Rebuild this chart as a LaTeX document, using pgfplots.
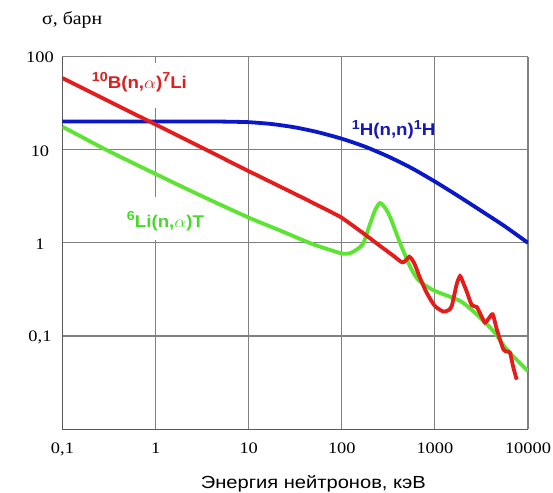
\documentclass[border=0pt]{standalone}
\usepackage{graphicx}
\usepackage{fontspec}
\usepackage{pgfplots}
\pgfplotsset{compat=1.18}
\setmainfont{Liberation Serif}
\newfontfamily\sansf{Liberation Sans}

% slightly widened lettering
\newcommand\hs[1]{\scalebox{1.15}[1]{#1}}
\newcommand\lbl[1]{\scalebox{1.1}[1]{#1}}
\newcommand\sups[1]{\raisebox{6.3pt}{\fontsize{13}{13}\selectfont #1}}

\definecolor{cB}{RGB}{228,28,28}
\definecolor{cH}{RGB}{10,24,200}
\definecolor{cLi}{RGB}{92,228,50}
\definecolor{tB}{RGB}{222,30,30}
\definecolor{tH}{RGB}{22,22,185}
\definecolor{tLi}{RGB}{72,218,42}

\begin{document}
\begin{tikzpicture}
\begin{axis}[
  name=ax,
  set layers,
  scale only axis,
  width=465.5pt, height=372.4pt,
  xmode=log, ymode=log,
  xmin=0.1, xmax=10000, ymin=0.01, ymax=100,
  xtick={0.1,1,10,100,1000,10000},
  xticklabels={\hs{0,1},\hs{1},\hs{10},\hs{100},\hs{1000},\hs{10000}},
  ytick={0.1,1,10,100},
  yticklabels={\hs{0,1},\hs{1},\hs{10},\hs{100}},
  major tick length=0pt, minor tick length=0pt,
  grid=major,
  major grid style={draw=gray, line width=1.1pt},
  axis x line*=bottom, axis y line*=left,
  axis line style={-, draw=black!65, line width=1.2pt},
  tick label style={font=\fontsize{16}{16}\selectfont, inner sep=0pt},
  xticklabel style={anchor=base, yshift=-24pt},
  yticklabel style={anchor=center, xshift=-22.5pt, yshift=-1pt},
  every axis plot/.append style={line width=3.8pt, smooth, tension=0.4},
]

% curve names on white patches above the grid, below the curves
\pgfplotsextra{%
\begin{pgfonlayer}{pre main}
\node[anchor=base west, inner xsep=2pt, inner ysep=0pt, fill=white,
      text height=25pt, text depth=20pt, xshift=-2pt, text=tB,
      font=\sansf\bfseries\fontsize{17}{17}\selectfont]
  at (axis cs:0.206,46) {\lbl{\sups{10}B(n,$\alpha$)\sups{7}Li}};
\node[anchor=base west, inner xsep=2pt, inner ysep=0pt, fill=white,
      text height=30pt, text depth=13pt, xshift=-2pt, text=tLi,
      font=\sansf\bfseries\fontsize{17}{17}\selectfont]
  at (axis cs:0.49,1.48) {\lbl{\sups{6}Li(n,$\alpha$)T}};
\node[anchor=base west, inner sep=0pt, text=tH,
      font=\sansf\bfseries\fontsize{17}{17}\selectfont]
  at (axis cs:127.8,14.1) {\lbl{\sups{1}H(n,n)\sups{1}H}};
\end{pgfonlayer}}

% 1H(n,n)1H elastic scattering
\addplot[cH] coordinates {
  (0.1,20.1) (0.3,20.1) (1,20.1) (3,20.1) (5,20.1) (10,19.8) (17.8,18.9)
  (31.6,17.4) (56.2,15.4) (100,13.15) (178,10.8) (316,8.46) (562,6.36)
  (1000,4.56) (1778,3.19) (3162,2.2) (5623,1.51) (10000,1.0)
};

% 6Li(n,alpha)T
\addplot[cLi] coordinates {
  (0.1,17.7) (0.3,9.9) (1,5.5) (3,3.25) (10,1.87) (21.7,1.36) (35.8,1.1)
  (50,0.96) (75,0.84) (100,0.77) (120,0.77) (145,0.85) (170,0.99)
  (201,1.6) (230,2.3) (257,2.68) (290,2.4) (330,1.9) (422,1.0)
  (540,0.56) (664,0.40) (964,0.31) (1862,0.238) (2813,0.171)
  (4246,0.113) (5900,0.072) (10000,0.042)
};

% 10B(n,alpha)7Li
\addplot[cB] coordinates {
  (0.1,59) (0.3,34) (1,18.7) (3,10.8) (10,5.9) (35.8,3.15) (75,2.17)
  (100,1.86) (170,1.27) (257,0.93) (350,0.74) (441,0.62) (480,0.64)
  (531,0.71) (570,0.66) (611,0.58) (692,0.42) (818,0.29) (1000,0.21)
  (1233,0.183) (1400,0.19) (1517,0.21) (1714,0.36) (1862,0.44)
  (2000,0.38) (2197,0.30) (2488,0.215) (2813,0.205) (3100,0.17)
  (3457,0.139) (3800,0.155) (4180,0.171) (4600,0.12) (5432,0.072)
  (6000,0.068) (6412,0.066) (6951,0.046) (7566,0.034)
};
\end{axis}

\node[anchor=base west, inner sep=0pt, font=\fontsize{18}{18}\selectfont]
  at ([xshift=-20.5pt, yshift=31.7pt]ax.north west) {\lbl{σ, барн}};
\node[anchor=base, inner sep=0pt, font=\sansf\fontsize{17.5}{17.5}\selectfont]
  at ([xshift=18.1pt, yshift=-59.7pt]ax.south) {\hs{Энергия нейтронов, кэВ}};

% page frame
\pgfresetboundingbox
\path[use as bounding box] ([xshift=-62.5pt, yshift=-63.7pt]ax.south west)
  rectangle ([xshift=25pt, yshift=56.7pt]ax.north east);
\end{tikzpicture}
\end{document}
